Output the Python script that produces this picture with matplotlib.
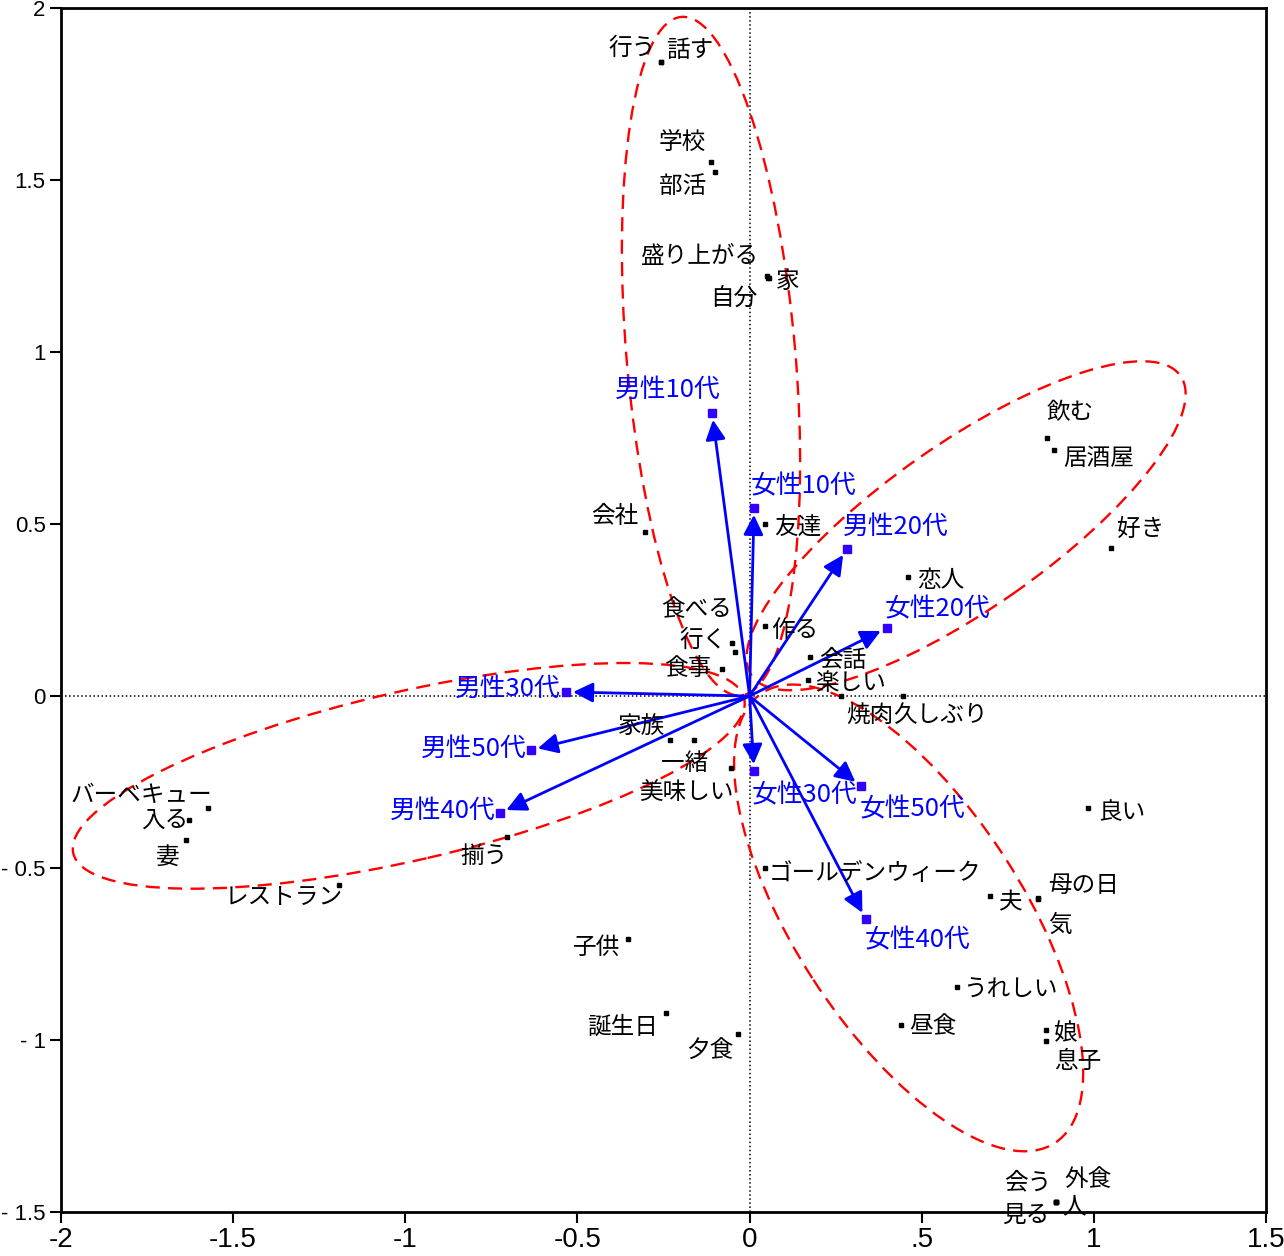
import numpy as np
import matplotlib
matplotlib.use("Agg")
import matplotlib.pyplot as plt
from matplotlib.patches import Ellipse

plt.rcParams['font.family'] = ['Noto Sans CJK JP', 'DejaVu Sans']

# word coordinates (correspondence analysis, dim 1 / dim 2)
words = ["行う", "話す", "学校", "部活", "盛り上がる", "自分", "家", "会社", "友達", "恋人",
         "飲む", "居酒屋", "好き", "食べる", "行く", "食事", "作る", "会話", "楽しい", "焼肉",
         "久しぶり", "家族", "一緒", "美味しい", "揃う", "バーベキュー", "入る", "妻", "レストラン", "良い",
         "ゴールデンウィーク", "夫", "母の日", "気", "子供", "誕生日", "夕食", "うれしい", "昼食", "娘",
         "息子", "会う", "外食", "見る", "人"]
word_x = [-0.257, -0.257, -0.112, -0.100, 0.050, 0.053, 0.055, -0.304, 0.045, 0.460,
          0.864, 0.884, 1.050, -0.042, -0.051, -0.080, 0.045, 0.175, 0.170, 0.265,
          0.445, -0.231, -0.161, -0.054, -0.705, -1.573, -1.628, -1.637, -1.193, 0.983,
          0.045, 0.698, 0.838, 0.838, -0.353, -0.243, -0.034, 0.602, 0.439, 0.860,
          0.860, 0.890, 0.890, 0.890, 0.890]
word_y = [1.843, 1.843, 1.552, 1.523, 1.220, 1.215, 1.215, 0.477, 0.500, 0.346,
          0.750, 0.715, 0.430, 0.128, 0.154, 0.078, 0.203, 0.113, 0.047, 0.000,
          0.000, -0.128, -0.128, -0.209, -0.410, -0.326, -0.360, -0.419, -0.549, -0.326,
          -0.500, -0.581, -0.587, -0.590, -0.706, -0.922, -0.983, -0.846, -0.956, -0.971,
          -1.003, -1.471, -1.471, -1.471, -1.471]

# attribute (sex x age) coordinates
groups = ["男性10代", "女性10代", "男性20代", "女性20代", "男性30代",
          "男性50代", "男性40代", "女性30代", "女性50代", "女性40代"]
group_x = [-0.109, 0.013, 0.283, 0.399, -0.533, -0.635, -0.725, 0.013, 0.323, 0.337]
group_y = [0.823, 0.547, 0.427, 0.198, 0.012, -0.157, -0.340, -0.218, -0.262, -0.648]

xticks = [-2, -1.5, -1, -0.5, 0, 0.5, 1, 1.5]
xtick_labels = ["-2", "-1.5", "-1", "-0.5", "0", ".5", "1", "1.5"]
yticks = [2, 1.5, 1, 0.5, 0, -0.5, -1, -1.5]
ytick_labels = ["2", "1.5", "1", "0.5", "0", "- 0.5", "- 1", "- 1.5"]

# label offsets in pixels (layout only)
word_off = [(-29, 14), (29, 12), (-29, 20), (-33, -14), (-67, 20), (-34, -20), (19, -3),
            (-30, 15), (33, -4), (33, -3), (23, 25), (45, -8), (30, 19), (-39, 42),
            (-29, 3), (-34, 1), (30, -4), (33, -3), (42, -4), (29, -19), (38, -19),
            (-29, 13), (-10, -23), (-45, -25), (-23, -19), (-67, 13), (-24, 0), (-18, -17),
            (-55, -13), (34, -4), (110, -5), (20, -7), (45, 12), (22, -26), (-32, -9),
            (-43, -14), (-28, -17), (53, -3), (32, -2), (20, -4), (32, -20), (-28, 19),
            (32, 23), (-30, -13), (18, -5)]
group_off = [(-44, 23), (49, 21), (49, 22), (51, 19), (-58, 3),
             (-57, 1), (-57, 2), (50, -24), (52, -23), (52, -21)]

# dashed cluster outlines: center, length, width, angle
petals = [((-0.112, 0.988), 1.98, 0.49, 95),
          ((0.629, 0.495), 1.52, 0.48, 35),
          ((-0.99, -0.232), 2.0, 0.49, 13),
          ((0.462, -0.645), 1.56, 0.66, -57)]

fig = plt.figure(figsize=(12.84, 12.56), dpi=100)
ax = fig.add_axes([61 / 1284, 0.035, 1205 / 1284, 0.9586])
ax.set_xlim(-2, 1.5)
ax.set_ylim(-1.5, 2)

ax.axhline(0, color='black', lw=1.1, ls=':', zorder=1)
ax.axvline(0, color='black', lw=1.1, ls=':', zorder=1)

for c, w, h, a in petals:
    ax.add_patch(Ellipse(c, w, h, angle=a, fill=False, edgecolor='#ff0000',
                         lw=1.7, ls=(0, (6, 3.5)), zorder=2))

ax.plot(word_x, word_y, 's', color='black', ms=2.6, zorder=4)
for w, x, y, (dx, dy) in zip(words, word_x, word_y, word_off):
    ax.annotate(w, (x, y), xytext=(dx, dy), textcoords='offset pixels',
                ha='center', va='center', fontsize=17, color='black', zorder=5)

for g, x, y, (dx, dy) in zip(groups, group_x, group_y, group_off):
    ax.annotate("", xy=(x, y), xytext=(0, 0),
                arrowprops=dict(arrowstyle='-|>', color='#0000ff', lw=2,
                                mutation_scale=30, shrinkA=0, shrinkB=5), zorder=3)
    ax.annotate(g, (x, y), xytext=(dx, dy), textcoords='offset pixels',
                ha='center', va='center', fontsize=18.5, color='#0000ff', zorder=5)
ax.plot(group_x, group_y, 's', color='#3300ff', ms=6, zorder=4)

ax.set_xticks(xticks)
ax.set_xticklabels(xtick_labels, family=['Liberation Sans Narrow', 'Liberation Sans'], fontsize=20)
ax.set_yticks(yticks)
ax.set_yticklabels(ytick_labels, family=['Liberation Sans'], fontsize=16)
ax.tick_params(direction='out', length=8, width=1.5, pad=3)
for s in ax.spines.values():
    s.set_linewidth(2)

fig.savefig("out.png", dpi=100)
